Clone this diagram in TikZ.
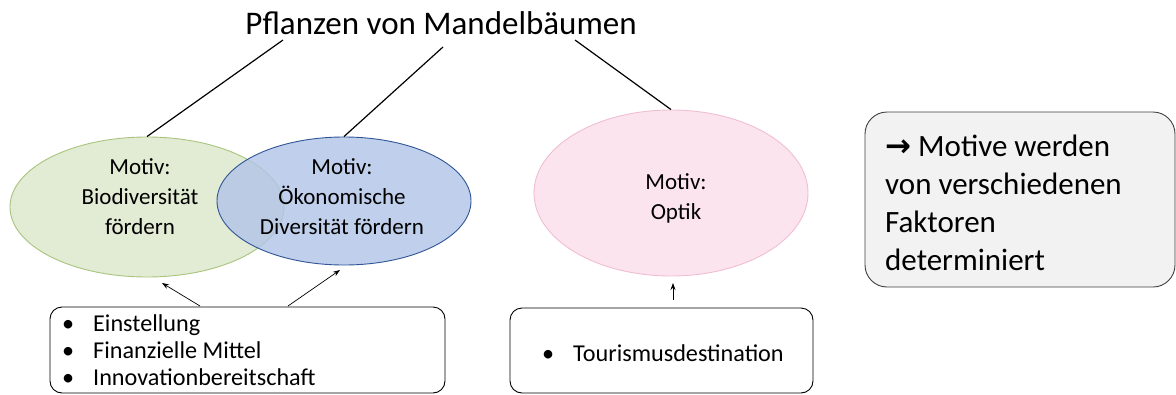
\documentclass[tikz,border=0pt]{standalone}
\usepackage{fontspec}
\setmainfont{Carlito}
\newfontfamily\symfont{DejaVu Sans}
\usetikzlibrary{shapes.geometric,arrows.meta}
\definecolor{greenfill}{RGB}{226,235,211}
\definecolor{greenline}{RGB}{169,196,126}
\definecolor{bluefill}{RGB}{176,196,231}
\definecolor{blueline}{RGB}{47,85,151}
\definecolor{pinkfill}{RGB}{252,228,238}
\definecolor{pinkline}{RGB}{240,190,210}
\definecolor{notefill}{RGB}{242,242,242}
\definecolor{noteline}{RGB}{64,64,64}
\tikzset{
  motiv/.style={ellipse, inner sep=0pt, line width=0.9pt},
  motivtext/.style={align=center, inner sep=0pt, font=\fontsize{23}{30}\selectfont},
  factorbox/.style={draw=black, rounded corners=12pt, line width=0.9pt},
  factortext/.style={align=left, inner sep=0pt, anchor=west, font=\fontsize{24.2}{27}\selectfont},
  link/.style={line width=1.2pt, black},
  influence/.style={line width=0.7pt, -{Stealth[length=7pt,width=5pt]}},
}
\newcommand{\bul}{\makebox[31pt][l]{\textbullet}}
\begin{document}
\begin{tikzpicture}[x=1pt,y=-1pt]
\useasboundingbox (0,0) rectangle (1176,394);
% title
\node[inner sep=0pt, font=\fontsize{33}{38}\selectfont] (title) at (441,23) {Pflanzen von Mandelbäumen};
\coordinate (t1) at (283,40);
\coordinate (t2) at (443,47);
\coordinate (t3) at (575,40);
% ellipses
\node[motiv, draw=greenline, fill=greenfill, minimum width=274pt, minimum height=140pt] (bio) at (147,207) {};
\node[motiv, draw=blueline, fill=bluefill, fill opacity=0.8, minimum width=254pt, minimum height=128pt] (oeko) at (344,201) {};
\node[motiv, draw=pinkline, fill=pinkfill, minimum width=274pt, minimum height=166pt] (optik) at (671,193) {};
\node[motivtext] (biotext) at (140,197) {Motiv:\\Biodiversität\\fördern};
\node[motivtext] (oekotext) at (342,197) {Motiv:\\Ökonomische\\Diversität fördern};
\node[motivtext] (optiktext) at (676,198) {Motiv:\\Optik};
% title links
\draw[link] (t1) -- (bio.north);
\draw[link] (t2) -- (oeko.north);
\draw[link] (t3) -- (optik.north);
% factor boxes
\draw[factorbox] (50,307) rectangle (445,393);
\node[factortext] (f1) at (62,350) {\bul Einstellung\\\bul Finanzielle Mittel\\\bul Innovationbereitschaft};
\draw[factorbox] (510,308) rectangle (813,393);
\node[factortext] (f2) at (542,353) {\bul Tourismusdestination};
\coordinate (a1s) at (200,306);
\coordinate (a1e) at (162,283);
\coordinate (a2s) at (288,306);
\coordinate (a2e) at (340,270);
\coordinate (a3s) at (673,300);
\coordinate (a3e) at (673,283);
\draw[influence] (a1s) -- (a1e);
\draw[influence] (a2s) -- (a2e);
\draw[influence] (a3s) -- (a3e);
% note
\node[draw=noteline, fill=notefill, rounded corners=22pt, line width=0.9pt, minimum width=310pt, minimum height=175pt, inner sep=0pt] (note) at (1020,199.5) {};
\node[align=left, anchor=north west, inner sep=0pt, font=\fontsize{31}{38}\selectfont] (notetext) at (885,135) {{\symfont\bfseries →} Motive werden\\von verschiedenen\\Faktoren\\determiniert};
\end{tikzpicture}
\end{document}
